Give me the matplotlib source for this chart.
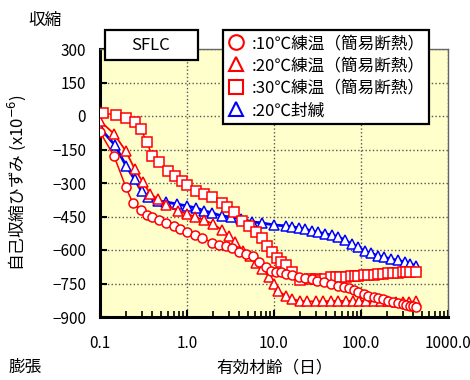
import matplotlib
matplotlib.use("Agg")
import matplotlib.pyplot as plt
from matplotlib.lines import Line2D
from matplotlib.patches import Rectangle
from matplotlib.ticker import LogLocator, NullFormatter

plt.rcParams['font.family'] = ['Noto Sans CJK JP', 'DejaVu Sans']

# 10℃練温（簡易断熱） - circles
age_10 = [0.10, 0.145, 0.198, 0.238, 0.294, 0.345, 0.40, 0.48, 0.58, 0.70, 0.84, 0.99,
          1.25, 1.5, 1.96, 2.35, 2.83, 3.3, 3.98, 4.8, 5.7, 6.7, 8.0, 9.2, 10.5, 12.0,
          13.7, 16, 19.3, 23, 27, 31, 38, 45, 55, 63, 72, 82, 93, 107, 121, 140, 158,
          180, 205, 235, 268, 300, 330, 365, 400, 430]
strain_10 = [-72, -179, -318, -390, -421, -443, -452, -466, -479, -492, -505, -519,
             -533, -546, -568, -577, -582, -591, -609, -617, -627, -653, -676, -694, -698, -698,
             -707, -712, -720, -726, -732, -738, -745, -750, -759, -765, -772, -780, -787, -796, -805, -810, -814,
             -821, -827, -832, -837, -842, -846, -850, -852, -855]

# 20℃練温（簡易断熱） - triangles
age_20 = [0.10, 0.145, 0.198, 0.25, 0.31, 0.38, 0.46, 0.58, 0.78, 0.99, 1.25, 1.55,
          2.0, 2.5, 3.0, 3.6, 4.4, 5.3, 6.2, 7.3, 8.8, 10.0, 11.1, 13.7, 16, 19.7,
          24, 30, 37, 45, 55, 67, 80, 95, 115, 140, 170, 205, 250, 300, 360, 430]
strain_20 = [-22, -80, -157, -237, -295, -350, -371, -398, -425, -438, -452, -466,
             -483, -510, -537, -564, -604, -627, -658, -685, -720, -752, -783, -805, -819, -828,
             -830, -830, -830, -828, -828, -828, -828, -828, -828, -828, -830, -830, -832, -832, -833, -830]

# 30℃練温（簡易断熱） - squares
age_30 = [0.108, 0.152, 0.20, 0.25, 0.294, 0.344, 0.40, 0.48, 0.60, 0.72, 0.87, 1.0,
          1.28, 1.58, 1.96, 2.5, 2.9, 3.5, 4.3, 5.2, 6.2, 7.3, 8.3, 9.5, 10.8, 12.0,
          13.7, 16, 19.7, 26, 30, 34, 39, 45, 52, 58, 67, 76, 85, 93, 107, 121, 140,
          158, 180, 205, 235, 268, 300, 330, 370, 430]
strain_30 = [13, 5, -8, -25, -58, -116, -179, -206, -246, -269, -291, -310,
             -336, -349, -362, -390, -407, -430, -470, -492, -520, -548, -580, -610, -635, -655,
             -667, -698, -734, -730, -732, -734, -728, -721, -722, -721, -719, -716, -716, -716, -714, -712, -710,
             -707, -706, -703, -704, -703, -700, -698, -698, -697]

# 20℃封緘 - blue triangles
age_s = [0.10, 0.148, 0.20, 0.25, 0.30, 0.36, 0.46, 0.58, 0.76, 1.0, 1.28, 1.58,
         1.96, 2.5, 3.2, 4.2, 5.6, 7.3, 10, 13.7, 16, 19.3, 23, 27, 32, 39, 46, 55,
         65, 78, 92, 110, 130, 158, 185, 223, 265, 320, 370, 430]
strain_s = [-54, -130, -224, -284, -336, -363, -380, -385, -394, -403, -412, -425,
            -434, -448, -452, -461, -474, -479, -488, -492, -496, -501, -507, -514, -520, -528, -533, -541,
            -556, -573, -588, -604, -615, -626, -633, -640, -647, -653, -662, -671]

labels = [':10℃練温（簡易断熱）', ':20℃練温（簡易断熱）', ':30℃練温（簡易断熱）', ':20℃封緘']
x_ticks = [0.1, 1, 10, 100, 1000]
x_ticklabels = ['0.1', '1.0', '10.0', '100.0', '1000.0']
y_ticks = [300, 150, 0, -150, -300, -450, -600, -750, -900]

red = '#FF0000'
blue = '#0000FF'

fig = plt.figure(figsize=(4.7, 3.8), dpi=100)
ax = fig.add_axes([100 / 470, 1 - 317 / 380, 348 / 470, 268 / 380])
ax.set_facecolor('#FFFFCC')

ax.plot(age_s, strain_s, color=blue, lw=2.0, marker='^', ms=7, mfc='white', mec=blue, mew=1.1, zorder=3)
ax.plot(age_20, strain_20, color=red, lw=1.3, marker='^', ms=7, mfc='white', mec=red, mew=1.1, zorder=4)
ax.plot(age_10, strain_10, color=red, lw=1.1, marker='o', ms=6.5, mfc='white', mec=red, mew=1.1, zorder=5)
ax.plot(age_30, strain_30, color=red, lw=1.1, marker='s', ms=6.5, mfc='white', mec=red, mew=1.1, zorder=4)

ax.set_xscale('log')
ax.set_xlim(0.1, 1000)
ax.set_ylim(-900, 300)
ax.set_xticks(x_ticks, labels=x_ticklabels)
ax.xaxis.set_minor_locator(LogLocator(base=10, subs=range(2, 10)))
ax.xaxis.set_minor_formatter(NullFormatter())
ax.set_yticks(y_ticks)

ax.grid(True, which='major', color='#555555', ls=':', lw=1.0)
ax.tick_params(axis='both', which='major', direction='in', length=5, width=1.5, labelsize=11)
ax.tick_params(axis='x', which='minor', direction='in', length=4, width=1.2)
ax.tick_params(axis='x', which='major', pad=13)
ax.tick_params(axis='y', which='major', pad=10)
for s in ['left', 'bottom']:
    ax.spines[s].set_linewidth(2.2)
    ax.spines[s].set_color('black')
for s in ['top', 'right']:
    ax.spines[s].set_linewidth(1.0)
    ax.spines[s].set_color('#666666')

# SFLC box
fig.patches.append(Rectangle((105 / 470, 1 - 60 / 380), 93 / 470, 30 / 380, transform=fig.transFigure,
                             facecolor='white', edgecolor='black', lw=1.6, zorder=10))
fig.text(151 / 470, 1 - 45 / 380, 'SFLC', ha='center', va='center', fontsize=12, zorder=11)

handles = [
    Line2D([], [], ls='none', marker='o', ms=10.5, mfc='none', mec=red, mew=1.5),
    Line2D([], [], ls='none', marker='^', ms=10.5, mfc='none', mec=red, mew=1.5),
    Line2D([], [], ls='none', marker='s', ms=10.5, mfc='none', mec=red, mew=1.5),
    Line2D([], [], ls='none', marker='^', ms=10.5, mfc='none', mec=blue, mew=1.5),
]
leg = fig.legend(handles, labels, loc='upper left', bbox_to_anchor=(223 / 470, 1 - 30 / 380),
                 bbox_transform=fig.transFigure, fontsize=12, frameon=True, fancybox=False,
                 framealpha=1, edgecolor='black', handlelength=1.0, handletextpad=0.4,
                 borderpad=0.3, labelspacing=0.32, borderaxespad=0)
leg.get_frame().set_linewidth(1.6)
leg.set_zorder(12)

fig.text(45 / 470, 1 - 20 / 380, '収縮', ha='center', va='center', fontsize=12)
fig.text(25 / 470, 1 - 367 / 380, '膨張', ha='center', va='center', fontsize=12)
fig.text(275 / 470, 1 - 368 / 380, '有効材齢（日）', ha='center', va='center', fontsize=12)
fig.text(17 / 470, 1 - 183 / 380, '自己収縮ひずみ (x10$^{-6}$)', ha='center', va='center',
         rotation=90, fontsize=12)

fig.savefig('out.png', dpi=100)
